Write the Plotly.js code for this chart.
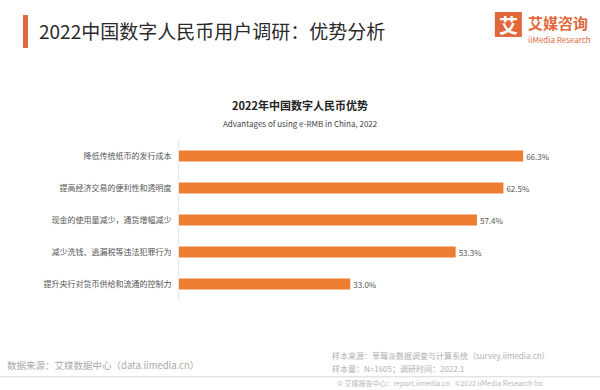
<!DOCTYPE html>
<html><head><meta charset="utf-8">
<script src="https://cdn.plot.ly/plotly-3.0.1.min.js"></script>
<style>html,body{margin:0;padding:0;background:#fff}#chart{width:600px;height:390px}</style>
</head><body><div id="chart"></div>
<script>
const categories = ["降低传统纸币的发行成本","提高经济交易的便利性和透明度","现金的使用量减少，通货增幅减少","减少洗钱、逃漏税等违法犯罪行为","提升央行对货币供给和流通的控制力"];
const values = [66.3, 62.5, 57.4, 53.3, 33.0];
const valueLabels = values.map(v => v.toFixed(1) + "%");

const F = '"Noto Sans CJK SC","Noto Sans",sans-serif';
const trace = {
  type: 'bar', orientation: 'h',
  x: values, y: categories,
  marker: {color: '#ED7D31'},
  width: 0.35,
  text: valueLabels, textposition: 'outside', cliponaxis: false,
  textfont: {family: F, size: 8, color: '#555'},
  hoverinfo: 'none'
};
const layout = {
  width: 600, height: 390,
  margin: {l: 179, r: 40, t: 140, b: 90},
  paper_bgcolor: '#fff', plot_bgcolor: '#fff',
  showlegend: false,
  xaxis: {range: [0, 73.4], visible: false, fixedrange: true},
  yaxis: {autorange: 'reversed', showline: true, linecolor: '#e6e6e6', linewidth: 1,
          ticks: '', showgrid: false, ticklabelstandoff: 5,
          tickfont: {family: F, size: 8, color: '#555'}},
  font: {family: F},
  shapes: [
    {type: 'rect', xref: 'paper', yref: 'paper', x0: -0.4094, x1: -0.3963, y0: 1.575, y1: 1.781, fillcolor: '#E0683C', line: {width: 0}},
    {type: 'line', xref: 'paper', yref: 'paper', x0: -0.47, x1: 1.105, y0: -0.48, y1: -0.48, line: {color: '#d8d8d8', width: 1}},
    {type: 'rect', xref: 'paper', yref: 'paper', x0: 0.829, x1: 0.9, y0: 1.644, y1: 1.8, fillcolor: '#E0683C', line: {width: 0}}
  ],
  annotations: [
    {xref: 'paper', yref: 'paper', x: -0.372, y: 1.6875, xanchor: 'left', yanchor: 'middle', showarrow: false,
     text: '2022中国数字人民币用户调研：优势分析', font: {family: F, size: 19, color: '#2a2a2a'}},
    {xref: 'paper', yref: 'paper', x: 0.8645, y: 1.72, xanchor: 'center', yanchor: 'middle', showarrow: false,
     text: '<b>艾</b>', font: {family: F, size: 19, color: '#fff'}},
    {xref: 'paper', yref: 'paper', x: 0.91, y: 1.7375, xanchor: 'left', yanchor: 'middle', showarrow: false,
     text: '<b>艾媒咨询</b>', font: {family: F, size: 15, color: '#E0683C'}},
    {xref: 'paper', yref: 'paper', x: 0.912, y: 1.631, xanchor: 'left', yanchor: 'middle', showarrow: false,
     text: 'iiMedia Research', font: {family: F, size: 8, color: '#E0683C'}},
    {xref: 'paper', yref: 'paper', x: 0.318, y: 1.219, xanchor: 'center', yanchor: 'middle', showarrow: false,
     text: '<b>2022年中国数字人民币优势</b>', font: {family: F, size: 11, color: '#222'}},
    {xref: 'paper', yref: 'paper', x: 0.318, y: 1.106, xanchor: 'center', yanchor: 'middle', showarrow: false,
     text: 'Advantages of using e-RMB in China, 2022', font: {family: F, size: 8, color: '#444'}},
    {xref: 'paper', yref: 'paper', x: -0.456, y: -0.406, xanchor: 'left', yanchor: 'middle', showarrow: false,
     text: '数据来源：艾媒数据中心（data.iimedia.cn）', font: {family: F, size: 9.5, color: '#aaa'}},
    {xref: 'paper', yref: 'paper', x: 0.396, y: -0.344, xanchor: 'left', yanchor: 'middle', showarrow: false,
     text: '样本来源：草莓派数据调查与计算系统（survey.iimedia.cn）', font: {family: F, size: 8, color: '#b0b0b0'}},
    {xref: 'paper', yref: 'paper', x: 0.396, y: -0.425, xanchor: 'left', yanchor: 'middle', showarrow: false,
     text: '样本量：N=1605；调研时间：2022.1', font: {family: F, size: 8, color: '#b0b0b0'}},
    {xref: 'paper', yref: 'paper', x: 0.41, y: -0.519, xanchor: 'left', yanchor: 'middle', showarrow: false,
     text: '© 艾媒报告中心：report.iimedia.cn   ©2022 iiMedia Research Inc', font: {family: F, size: 7, color: '#b8b8b8'}}
  ]
};
Plotly.newPlot('chart', [trace], layout, {displayModeBar: false, staticPlot: true});
</script></body></html>
